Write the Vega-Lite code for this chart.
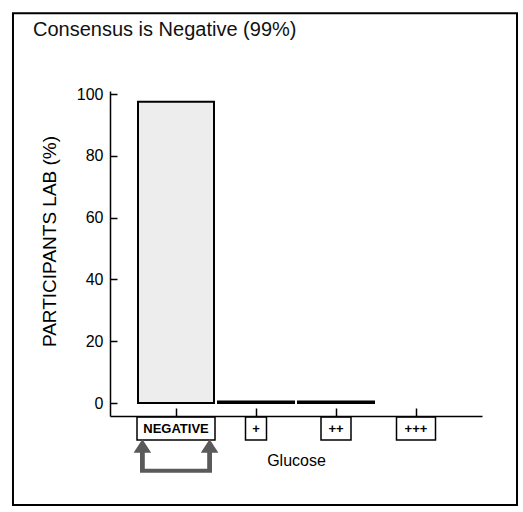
{
  "$schema": "https://vega.github.io/schema/vega-lite/v6.json",
  "width": 372,
  "height": 325,
  "autosize": {"type": "none"},
  "padding": {"left": 110, "top": 91, "right": 41, "bottom": 96},
  "background": "white",
  "title": {
    "text": "Consensus is Negative (99%)",
    "anchor": "start",
    "frame": "group",
    "dx": -77,
    "dy": 44,
    "offset": 0,
    "baseline": "alphabetic",
    "font": "Liberation Sans",
    "fontSize": 20,
    "fontWeight": "normal",
    "color": "#111111"
  },
  "config": {"view": {"stroke": null}, "font": "Liberation Sans"},
  "data": {
    "values": [
      {"glucose": "NEGATIVE", "pct": 97.5},
      {"glucose": "+", "pct": 0.5},
      {"glucose": "++", "pct": 0.5},
      {"glucose": "+++", "pct": 0}
    ]
  },
  "encoding": {
    "x": {
      "field": "glucose",
      "type": "nominal",
      "sort": null,
      "scale": {"domain": ["NEGATIVE", "+", "++", "+++"], "paddingInner": 0.05, "paddingOuter": 0.35},
      "axis": {
        "title": "Glucose",
        "labels": false,
        "tickSize": -8,
        "tickColor": "black",
        "tickWidth": 1.5,
        "domainColor": "black",
        "domainWidth": 1.5,
        "titleFont": "Liberation Sans",
        "titleFontSize": 16,
        "titleFontWeight": "normal",
        "titleColor": "black",
        "titlePadding": 36
      }
    }
  },
  "layer": [
    {
      "data": {"values": [{"frame": 1}]},
      "mark": {"type": "rect", "fill": null, "stroke": "black", "strokeWidth": 2},
      "encoding": {
        "x": {"datum": "NEGATIVE", "bandPosition": -1.645, "type": "nominal"},
        "x2": {"datum": "+++", "bandPosition": 1.829},
        "y": {"datum": 126.2, "type": "quantitative"},
        "y2": {"datum": -33}
      }
    },
    {
      "transform": [{"filter": "datum.pct > 0"}],
      "mark": {"type": "bar", "fill": "#ededed", "stroke": "black", "strokeWidth": 2},
      "encoding": {
        "y": {
          "field": "pct",
          "type": "quantitative",
          "scale": {"domain": [-4.2, 101], "nice": false, "zero": false},
          "axis": {
            "title": "PARTICIPANTS LAB (%)",
            "values": [0, 20, 40, 60, 80, 100],
            "grid": false,
            "tickSize": -7,
            "tickColor": "black",
            "tickWidth": 1.5,
            "domainColor": "black",
            "domainWidth": 1.5,
            "labelFont": "Liberation Sans",
            "labelFontSize": 16,
            "labelColor": "black",
            "labelPadding": 14,
            "titleFont": "Liberation Sans",
            "titleFontSize": 19,
            "titleFontWeight": "normal",
            "titleColor": "black",
            "titleAngle": -90,
            "titleX": -61,
            "titleY": 150,
            "titleAlign": "center",
            "titleBaseline": "middle"
          }
        },
        "y2": {"datum": 0}
      }
    },
    {
      "mark": {"type": "point", "filled": true, "fill": "white", "stroke": "black", "strokeWidth": 1.5, "size": 6400, "opacity": 1},
      "encoding": {
        "y": {"datum": -8.25, "type": "quantitative"},
        "shape": {
          "field": "glucose",
          "type": "nominal",
          "scale": {
            "domain": ["NEGATIVE", "+", "++", "+++"],
            "range": [
              "M-0.975,-0.2875H0.975V0.2875H-0.975Z",
              "M-0.2625,-0.2875H0.2625V0.2875H-0.2625Z",
              "M-0.375,-0.2875H0.375V0.2875H-0.375Z",
              "M-0.4875,-0.2875H0.4875V0.2875H-0.4875Z"
            ]
          },
          "legend": null
        }
      }
    },
    {
      "mark": {"type": "text", "font": "Liberation Sans", "fontSize": 13, "fontWeight": "bold", "color": "black", "baseline": "middle", "align": "center"},
      "encoding": {
        "y": {"datum": -8.25, "type": "quantitative"},
        "text": {"field": "glucose"}
      }
    },
    {
      "transform": [{"filter": "datum.glucose === 'NEGATIVE'"}],
      "mark": {
        "type": "point",
        "filled": true,
        "fill": "#5a5a5a",
        "strokeWidth": 0,
        "size": 6400,
        "opacity": 1,
        "shape": "M-0.84,-0.42L-0.62,-0.08L-0.78,-0.08L-0.78,0.32L0.78,0.32L0.78,-0.08L0.62,-0.08L0.84,-0.42L1.06,-0.08L0.9,-0.08L0.9,0.42L-0.9,0.42L-0.9,-0.08L-1.06,-0.08Z"
      },
      "encoding": {
        "y": {"datum": -17.15, "type": "quantitative"}
      }
    }
  ]
}
